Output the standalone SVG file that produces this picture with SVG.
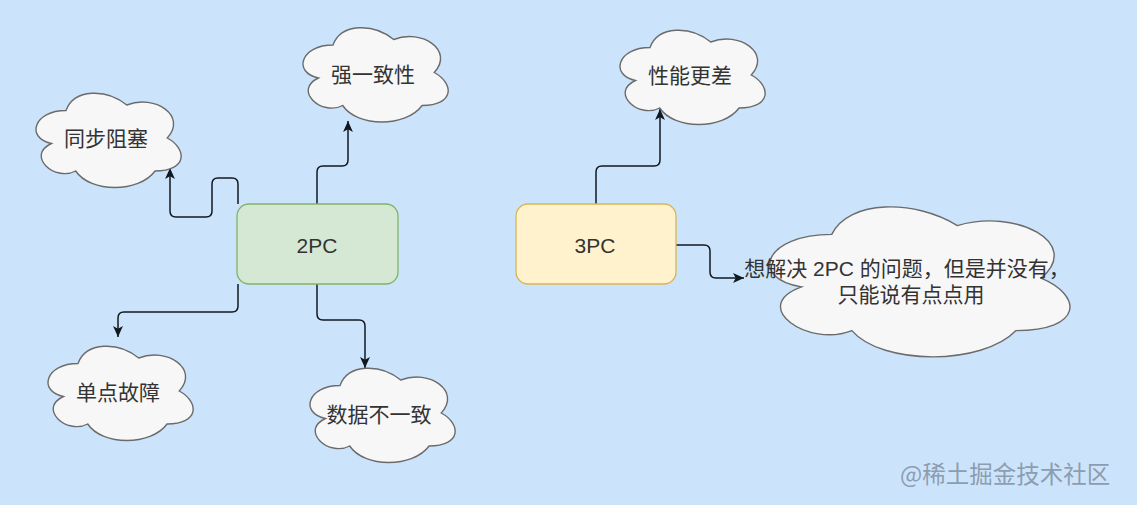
<svg xmlns="http://www.w3.org/2000/svg" width="1137" height="505" viewBox="0 0 1137 505">
<style>
.bg{fill:#cce4fb}
.cloud{fill:#f7f7f7;stroke:#6b6b6b;stroke-width:1.4}
.t{font-family:"Liberation Sans","Noto Sans CJK SC",sans-serif;font-size:21px;fill:#333;text-anchor:middle;dominant-baseline:central}
.conn{fill:none;stroke:#111820;stroke-width:1.5;marker-end:url(#arr)}
.wm{font-family:"Noto Sans CJK SC",sans-serif;font-size:23.5px;fill:#8d9db0;text-anchor:start;dominant-baseline:central}
</style>
<defs>
<path id="cl" d="M40.5,27.5 C8.1,27.5 0,55 25.9,60.5 C0,72.6 29.2,99 50.2,88 C64.8,110 113.4,110 129.6,88 C162,88 162,66 141.75,55 C162,33 129.6,11 101.25,22 C81,5.5 48.6,5.5 40.5,27.5 Z"/>
<marker id="arr" viewBox="0 0 10 10" refX="10" refY="5" markerWidth="11" markerHeight="11" markerUnits="userSpaceOnUse" orient="auto">
<path d="M0,0.5 L10,5 L0,9.5 L2.5,5 Z" fill="#111820"/>
</marker>
</defs>
<rect class="bg" x="0" y="0" width="1137" height="505"/>
<g id="connectors">
<path class="conn" d="M317,204 V172 Q317,166 323,166 H342 Q348,166 348,160 V121"/>
<path class="conn" d="M238,204 V184 Q238,178 232,178 H218 Q212,178 212,184 V211 Q212,217 206,217 H176 Q170,217 170,211 V168"/>
<path class="conn" d="M238,284 V306 Q238,312 232,312 H124 Q118,312 118,318 V337"/>
<path class="conn" d="M317,284 V314 Q317,320 323,320 H359 Q365,320 365,326 V368"/>
<path class="conn" d="M596,204 V172 Q596,166 602,166 H654 Q660,166 660,160 V109"/>
<path class="conn" d="M676,245 H704 Q710,245 710,251 V272 Q710,278 716,278 H744"/>
</g>
<g id="n2pc">
<rect x="237" y="204" width="161" height="80" rx="12" fill="#d5e8d4" stroke="#82b366" stroke-width="1.3"/>
<text class="t" x="317" y="245">2PC</text>
</g>
<g id="n3pc">
<rect x="516" y="204" width="160" height="80" rx="12" fill="#fff2cc" stroke="#d6b656" stroke-width="1.3"/>
<text class="t" x="595" y="245">3PC</text>
</g>
<g id="c1">
<use href="#cl" class="cloud" transform="translate(25.5,83)"/>
<text class="t" x="106" y="138">同步阻塞</text>
</g>
<g id="c2">
<use href="#cl" class="cloud" transform="translate(292.5,17.5)"/>
<text class="t" x="373" y="74">强一致性</text>
</g>
<g id="c3">
<use href="#cl" class="cloud" transform="translate(37.5,336)"/>
<text class="t" x="118" y="392">单点故障</text>
</g>
<g id="c4">
<use href="#cl" class="cloud" transform="translate(299.5,358)"/>
<text class="t" x="379" y="414">数据不一致</text>
</g>
<g id="c5">
<use href="#cl" class="cloud" transform="translate(609.5,20)"/>
<text class="t" x="690" y="75">性能更差</text>
</g>
<g id="c6">
<path class="cloud" transform="translate(748,190.6)" d="M83.75,43.75 C16.75,43.75 0,87.5 53.6,96.25 C0,115.5 60.3,157.5 103.85,140 C134,175 234.5,175 268,140 C335,140 335,105 293.1,87.5 C335,52.5 268,17.5 209.4,35 C167.5,8.75 100.5,8.75 83.75,43.75 Z"/>
<text class="t" x="907" y="268">想解决 2PC 的问题，但是并没有，</text>
<text class="t" x="911" y="294">只能说有点点用</text>
</g>
<text class="wm" x="900" y="473">@稀土掘金技术社区</text>
</svg>
